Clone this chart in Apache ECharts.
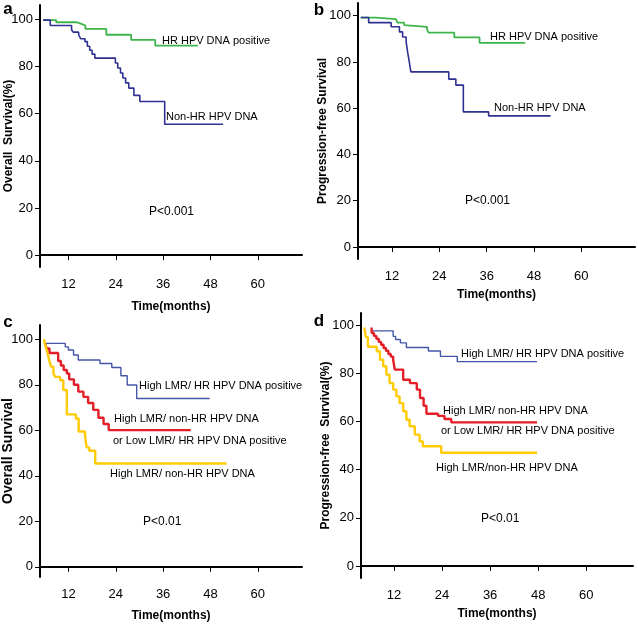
<!DOCTYPE html>
<html>
<head>
<meta charset="utf-8">
<script src="https://cdn.jsdelivr.net/npm/echarts@6/dist/echarts.min.js"></script>
<style>
  html, body { margin: 0; padding: 0; background: #fff; }
  #chart { width: 638px; height: 627px; }
</style>
</head>
<body>
<div id="chart"></div>
<script>
// ---- Data ----
const xTicks = [12, 24, 36, 48, 60];
const yTicks = [0, 20, 40, 60, 80, 100];

// Panel a: Overall survival
const aHrPositive = [[5.6,99.6],[8.9,98.7],[14.0,98.0],[15.3,97.3],[16.3,95.9],[21.6,93.4],[27.9,91.2],[34.0,88.8],[44.8,88.8]];
const aNonHr = [[5.6,99.6],[7.4,97.3],[12.8,95.5],[13.2,94.5],[14.6,93.4],[15.1,91.7],[16.2,90.5],[16.8,88.5],[17.4,86.8],[18.0,85.2],[18.7,83.5],[23.9,81.4],[24.5,79.3],[25.2,77.2],[25.8,75.1],[26.5,73.0],[27.3,70.8],[28.6,67.7],[30.1,65.1],[36.4,55.5],[51.2,55.5]];

// Panel b: Progression-free survival
const bHrPositive = [[4.1,99.2],[7.9,98.5],[13.0,97.8],[13.4,97.0],[15.1,95.9],[15.6,95.2],[20.9,94.0],[21.3,92.7],[27.8,90.6],[34.2,88.3],[45.8,88.3]];
const bNonHr = [[4.1,99.2],[6.1,97.0],[11.8,95.2],[13.9,93.0],[14.7,90.8],[15.6,88.7],[16.0,84.0],[16.4,80.0],[16.8,75.7],[26.4,72.6],[28.2,70.0],[30.1,58.4],[36.5,56.7],[52.2,56.7]];

// Panel c: Overall survival by LMR / HPV group
const cHighHr = [[6.0,98.2],[11.2,96.7],[12.0,95.3],[13.3,93.1],[14.5,90.9],[20.0,89.4],[23.0,87.6],[25.3,84.0],[26.9,79.9],[29.3,74.0],[47.8,74.0]];
const cMixed = [[6.0,98.5],[6.5,96.0],[7.2,94.0],[9.4,90.5],[10.1,88.5],[10.8,86.5],[11.6,85.0],[12.2,82.4],[13.4,80.0],[14.5,77.0],[15.8,74.7],[17.0,72.0],[18.3,69.0],[19.6,65.5],[20.9,62.8],[22.2,60.1],[43.0,60.1]];
const cHighNonHr = [[5.8,100],[6.2,97],[6.7,94],[7.1,91],[7.6,88],[8.2,85],[8.6,83.5],[9.9,82],[10.7,77.7],[11.6,67],[13.9,65.2],[14.6,59.5],[16.2,58],[16.6,52.5],[17.3,51],[18.8,45.4],[52.1,45.4]];

// Panel d: Progression-free survival by LMR / HPV group
const dHighHr = [[6.4,97.6],[11.8,95.3],[12.4,94.0],[13.6,92.6],[15.1,90.7],[20.6,89.2],[23.6,87.0],[27.8,84.8],[47.7,84.8]];
const dMixed = [[6.4,99.0],[6.45,96.7],[7.0,95.5],[7.6,94.3],[8.2,93.0],[8.8,91.8],[9.4,90.5],[10.0,89.3],[10.6,88.0],[11.2,86.9],[11.8,85.6],[12.2,81.5],[14.3,77.3],[16.0,75.9],[17.7,73.2],[18.5,69.7],[19.4,66.5],[20.1,63.2],[23.0,62.3],[24.6,61.0],[26.3,59.6],[47.7,59.6]];
const dHighNonHr = [[4.6,99.0],[5.0,95.0],[5.5,91.0],[7.7,89.1],[8.5,85.6],[9.3,82.9],[10.1,79.4],[10.9,75.9],[11.8,73.2],[12.6,70.4],[13.4,67.6],[14.3,64.2],[15.1,60.7],[15.9,58.0],[17.2,54.5],[18.4,51.7],[19.2,49.7],[23.8,47.0],[47.7,47.0]];

const panelLetters = ['a', 'b', 'c', 'd'];
const yTitles = ['Overall  Survival(%)', 'Progression-free Survival', 'Overall Survival', 'Progression-free  Survival(%)'];
const xTitle = 'Time(months)';
const pTexts = ['P<0.001', 'P<0.001', 'P<0.01', 'P<0.01'];
const labA = ['HR HPV DNA positive', 'Non-HR HPV DNA'];
const labC = ['High LMR/ HR HPV DNA positive', 'High LMR/ non-HR HPV DNA', 'or Low LMR/ HR HPV DNA positive', 'High LMR/ non-HR HPV DNA'];
const labD = ['High LMR/ HR HPV DNA positive', 'High LMR/ non-HR HPV DNA', 'or Low LMR/ HR HPV DNA positive', 'High LMR/non-HR HPV DNA'];

// ---- Styling / layout ----
const NARROW = '"Liberation Sans Narrow", "Arial Narrow", "Liberation Sans", Arial, sans-serif';
const SANS = '"Liberation Sans", Arial, sans-serif';
const GREEN = '#3db54a', NAVY = '#2e3192', BLUE = '#4357a8', RED = '#e41e26', YELLOW = '#ffcb05';

const grids = [
  { left: 40,  top: 5,   width: 262, height: 262 },
  { left: 358, top: 3,   width: 277, height: 256 },
  { left: 40,  top: 325, width: 262, height: 252 },
  { left: 361, top: 313, width: 272, height: 265 }
];
const xRanges = [[4.8, 71.2], [3.4, 73.6], [4.8, 71.2], [3.77, 71.67]];
const yRanges = [[-5, 106], [-5.2, 105.5], [-4.5, 106.3], [-5, 105]];
const yNameGaps = [25, 29, 25, 29];
const xNameGaps = [34, 30, 33, 30];
const yNameSizes = [12, 12, 14, 12];

const axisLine = { show: true, lineStyle: { color: '#000', width: 2 } };
const axisTick = (vals) => ({ show: true, length: 5, customValues: vals, lineStyle: { color: '#000', width: 1 } });

const xAxes = grids.map((g, i) => ({
  type: 'value', gridIndex: i, min: xRanges[i][0], max: xRanges[i][1],
  axisLine, axisTick: axisTick(xTicks),
  axisLabel: { customValues: xTicks, margin: 11, color: '#000', fontFamily: NARROW, fontSize: 13 },
  splitLine: { show: false },
  name: xTitle, nameLocation: 'middle', nameGap: xNameGaps[i], nameMoveOverlap: false,
  nameTextStyle: { color: '#000', fontFamily: NARROW, fontWeight: 'bold', fontSize: 12 }
}));
const yAxes = grids.map((g, i) => ({
  type: 'value', gridIndex: i, min: yRanges[i][0], max: yRanges[i][1],
  axisLine, axisTick: axisTick(yTicks),
  axisLabel: { customValues: yTicks, margin: 7, color: '#000', fontFamily: NARROW, fontSize: 13 },
  splitLine: { show: false },
  name: yTitles[i], nameLocation: 'middle', nameRotate: 90, nameGap: yNameGaps[i], nameMoveOverlap: false,
  nameTextStyle: { color: '#000', fontFamily: SANS, fontWeight: 'bold', fontSize: yNameSizes[i] }
}));

function km(idx, data, color, width) {
  return { type: 'line', xAxisIndex: idx, yAxisIndex: idx, data, step: 'end',
    showSymbol: false, symbol: 'none', silent: true, animation: false,
    lineStyle: { color, width } };
}
const series = [
  km(0, aHrPositive, GREEN, 1.8), km(0, aNonHr, NAVY, 1.6),
  km(1, bHrPositive, GREEN, 1.8), km(1, bNonHr, NAVY, 1.6),
  km(2, cHighHr, BLUE, 1.4), km(2, cMixed, RED, 2.4), km(2, cHighNonHr, YELLOW, 2.4),
  km(3, dHighHr, BLUE, 1.4), km(3, dMixed, RED, 2.4), km(3, dHighNonHr, YELLOW, 2.4)
];

function txt(text, x, y, size, opts) {
  opts = opts || {};
  return { type: 'text', x, y, silent: true,
    style: { text, fill: '#000', font: (opts.bold ? 'bold ' : '') + size + 'px ' + (opts.family || SANS),
      align: opts.align || 'left', verticalAlign: 'middle' } };
}
const graphics = [
  txt(panelLetters[0], 8, 9, 17, { bold: true, align: 'center' }),
  txt(panelLetters[1], 319, 10, 17, { bold: true, align: 'center' }),
  txt(panelLetters[2], 8, 322, 17, { bold: true, align: 'center' }),
  txt(panelLetters[3], 319, 321, 17, { bold: true, align: 'center' }),
  // panel a
  txt(labA[0], 162, 41, 11), txt(labA[1], 166, 117, 11), txt(pTexts[0], 149, 212, 12),
  // panel b
  txt(labA[0], 490, 37, 11), txt(labA[1], 494, 108, 11), txt(pTexts[1], 465, 201, 12),
  // panel c
  txt(labC[0], 139, 386, 11), txt(labC[1], 114, 419, 11), txt(labC[2], 113, 441, 11), txt(labC[3], 110, 474, 11), txt(pTexts[2], 143, 522, 12),
  // panel d
  txt(labD[0], 461, 354, 11), txt(labD[1], 443, 411, 11), txt(labD[2], 441, 431, 11), txt(labD[3], 436, 468, 11), txt(pTexts[3], 481, 519, 12)
];

const chart = echarts.init(document.getElementById('chart'), null, { renderer: 'canvas' });
chart.setOption({
  backgroundColor: '#fff',
  animation: false,
  grid: grids,
  xAxis: xAxes,
  yAxis: yAxes,
  series,
  graphic: graphics
});
</script>
</body>
</html>
